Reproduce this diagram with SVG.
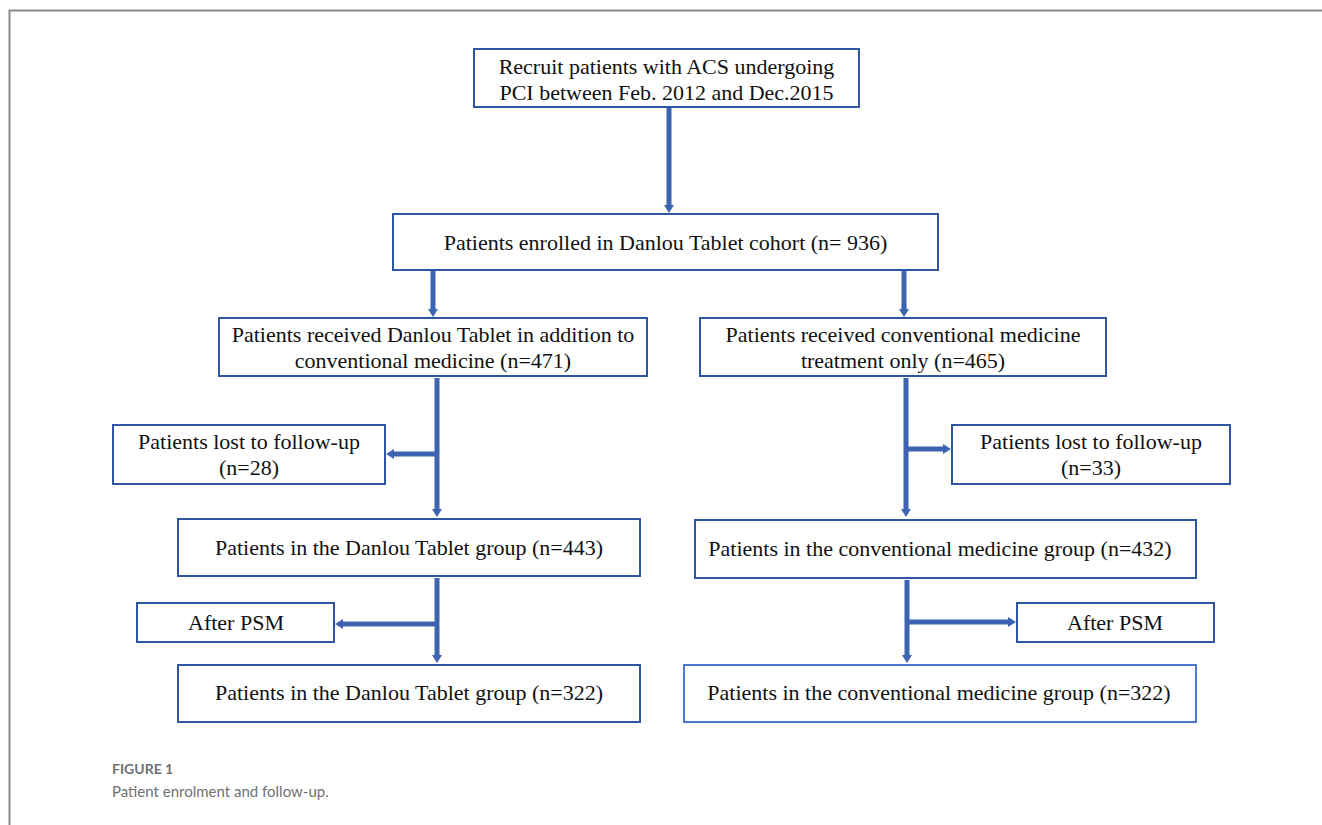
<svg xmlns="http://www.w3.org/2000/svg" width="1322" height="825" viewBox="0 0 1322 825">
<style>
.box{fill:#ffffff;stroke:#2f56a3;stroke-width:2}
.t{font-family:"Liberation Serif","Times New Roman",serif;font-size:22px;fill:#111111;text-anchor:middle}
.c{fill:none;stroke:#3d64b0;stroke-width:5}
.frame{stroke:#8a8a8a;stroke-width:2;fill:none}
.cap1{font-family:Lato,"Open Sans",sans-serif;font-size:14px;font-weight:bold;fill:#707173}
.cap2{font-family:Lato,"Open Sans",sans-serif;font-size:15px;fill:#707173}
</style>
<defs>
<marker id="ah" markerUnits="userSpaceOnUse" markerWidth="12" markerHeight="12" viewBox="0 0 12 12" refX="2" refY="6" orient="auto">
<path d="M0,1 L8,6 L0,11 Z" fill="#3d64b0"/>
</marker>
</defs>
<rect width="1322" height="825" fill="#ffffff"/>
<path class="frame" d="M9.5,825 V10.5 H1322"/>
<g id="connectors">
<path class="c" d="M669,108 V207" marker-end="url(#ah)"/>
<path class="c" d="M433,271 V311" marker-end="url(#ah)"/>
<path class="c" d="M904,271 V311" marker-end="url(#ah)"/>
<path class="c" d="M437,378 V511" marker-end="url(#ah)"/>
<path class="c" d="M437,454 H392" marker-end="url(#ah)"/>
<path class="c" d="M906,378 V511" marker-end="url(#ah)"/>
<path class="c" d="M906,449 H945" marker-end="url(#ah)"/>
<path class="c" d="M437,578 V657" marker-end="url(#ah)"/>
<path class="c" d="M437,624 H341" marker-end="url(#ah)"/>
<path class="c" d="M907,580 V657" marker-end="url(#ah)"/>
<path class="c" d="M907,622 H1010" marker-end="url(#ah)"/>
</g>
<g id="recruit"><rect class="box" x="474" y="49" width="385" height="58"/>
<text class="t" x="666.5" y="74">Recruit patients with ACS undergoing</text>
<text class="t" x="666.5" y="100">PCI between Feb. 2012 and Dec.2015</text></g>
<g id="enrolled"><rect class="box" x="393" y="214" width="545" height="56"/>
<text class="t" x="665.5" y="250">Patients enrolled in Danlou Tablet cohort (n= 936)</text></g>
<g id="danlou-received"><rect class="box" x="219" y="318" width="428" height="58"/>
<text class="t" x="433" y="342">Patients received Danlou Tablet in addition to</text>
<text class="t" x="433" y="368">conventional medicine (n=471)</text></g>
<g id="conv-received"><rect class="box" x="700" y="318" width="406" height="58"/>
<text class="t" x="903" y="342">Patients received conventional medicine</text>
<text class="t" x="903" y="368">treatment only (n=465)</text></g>
<g id="lost-left"><rect class="box" x="113" y="425" width="272" height="59"/>
<text class="t" x="249" y="449">Patients lost to follow-up</text>
<text class="t" x="249" y="475">(n=28)</text></g>
<g id="lost-right"><rect class="box" x="952" y="425" width="278" height="59"/>
<text class="t" x="1091" y="449">Patients lost to follow-up</text>
<text class="t" x="1091" y="475">(n=33)</text></g>
<g id="danlou-443"><rect class="box" x="178" y="519" width="462" height="57"/>
<text class="t" x="409" y="555">Patients in the Danlou Tablet group (n=443)</text></g>
<g id="conv-432"><rect class="box" x="695" y="520" width="501" height="58"/>
<text class="t" x="940" y="556">Patients in the conventional medicine group (n=432)</text></g>
<g id="psm-left"><rect class="box" x="137" y="603" width="197" height="39"/>
<text class="t" x="236" y="630">After  PSM</text></g>
<g id="psm-right"><rect class="box" x="1017" y="603" width="197" height="39"/>
<text class="t" x="1115" y="630">After  PSM</text></g>
<g id="danlou-322"><rect class="box" x="178" y="665" width="462" height="57"/>
<text class="t" x="409" y="700">Patients in the Danlou Tablet group (n=322)</text></g>
<g id="conv-322"><rect class="box" x="684" y="665" width="512" height="57" style="stroke:#4a78d0"/>
<text class="t" x="939" y="700">Patients in the conventional medicine group (n=322)</text></g>
<text class="cap1" x="112" y="774">FIGURE 1</text>
<text class="cap2" x="112" y="797">Patient enrolment and follow-up.</text>
</svg>
